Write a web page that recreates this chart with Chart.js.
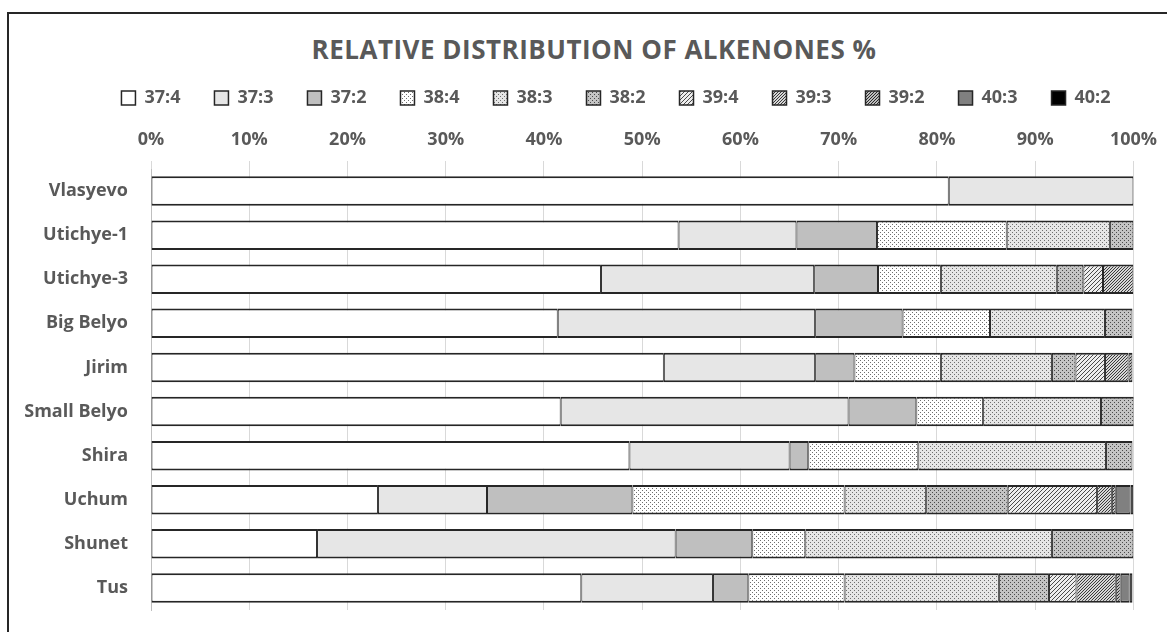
<!DOCTYPE html>
<html lang="en">
<head>
<meta charset="UTF-8">
<script src="https://cdn.jsdelivr.net/npm/chart.js"></script>
<title>Alkenones</title>
<style>
  html, body { margin: 0; padding: 0; background: #fff; }
  #wrap { position: relative; width: 1167px; height: 632px; overflow: hidden; }
  #frame { position: absolute; left: 7px; top: 12px; width: 1200px; height: 700px;
           border-left: 2px solid #262626; border-top: 2px solid #262626; }
  #title { position: absolute; left: 0; width: 1188px; top: 31px; text-align: center;
           font: bold 26px "Open Sans"; letter-spacing: 0.5px; color: #595959; }
  #chart { position: absolute; left: 0; top: 0; }
</style>
</head>
<body>
<div id="wrap">
  <div id="frame"></div>
  <div id="title">RELATIVE DISTRIBUTION OF ALKENONES %</div>
  <canvas id="chart" width="1167" height="632"></canvas>
</div>
<script>
// sites (top to bottom) and share of each alkenone, %
const sites = ['Vlasyevo', 'Utichye-1', 'Utichye-3', 'Big Belyo', 'Jirim', 'Small Belyo', 'Shira', 'Uchum', 'Shunet', 'Tus']
const seriesNames = ['37:4', '37:3', '37:2', '38:4', '38:3', '38:2', '39:4', '39:3', '39:2', '40:3', '40:2']
const c37_4 = [81.2, 53.7, 45.8, 41.4, 52.2, 41.7, 48.7, 23.1, 16.9, 43.8]
const c37_3 = [18.8, 12.0, 21.7, 26.2, 15.4, 29.3, 16.3, 11.1, 36.5, 13.4]
const c37_2 = [null, 8.2, 6.5, 8.9, 4.0, 6.9, 1.9, 14.8, 7.8, 3.6]
const c38_4 = [null, 13.2, 6.4, 8.9, 8.8, 6.8, 11.2, 21.6, 5.4, 9.8]
const c38_3 = [null, 10.5, 11.8, 11.7, 11.3, 12.0, 19.1, 8.3, 25.1, 15.7]
const c38_2 = [null, 2.4, 2.7, 2.8, 2.4, 3.4, 2.7, 8.3, 8.3, 5.1]
const c39_4 = [null, null, 2.0, null, 3.0, null, null, 9.1, null, 2.8]
const c39_3 = [null, null, 3.1, null, 2.4, null, null, 1.5, null, 4.0]
const c39_2 = [null, null, null, null, 0.4, null, null, 0.4, null, 0.5]
const c40_3 = [null, null, null, null, null, null, null, 1.5, null, 0.9]
const c40_2 = [null, null, null, null, null, null, null, 0.3, null, 0.3]
const xTicks = [0, 10, 20, 30, 40, 50, 60, 70, 80, 90, 100]

const ctx = document.getElementById('chart').getContext('2d')

// small repeating tiles for the Excel-like fill patterns
function tile(size, bg, draw) {
  const c = document.createElement('canvas')
  c.width = c.height = size
  const g = c.getContext('2d')
  g.fillStyle = bg
  g.fillRect(0, 0, size, size)
  draw(g)
  return ctx.createPattern(c, 'repeat')
}
function dots(bg, fg) {
  return tile(4, bg, g => { g.fillStyle = fg; g.fillRect(0, 0, 1, 1); g.fillRect(2, 2, 1, 1) })
}
function hatch(bg, fg, size) {
  return tile(size, bg, g => {
    g.fillStyle = fg
    for (let i = 0; i < size; i++) g.fillRect(size - 1 - i, i, 1, 1)
  })
}

const fills = [
  '#ffffff',
  '#e6e6e6',
  '#bfbfbf',
  dots('#ffffff', '#6e6e6e'),
  dots('#e6e6e6', '#6e6e6e'),
  dots('#c4c4c4', '#4a4a4a'),
  hatch('#eeeeee', '#4a4a4a', 4),
  hatch('#d6d6d6', '#3a3a3a', 3),
  hatch('#bdbdbd', '#2a2a2a', 3),
  '#808080',
  '#000000'
]
const values = [c37_4, c37_3, c37_2, c38_4, c38_3, c38_2, c39_4, c39_3, c39_2, c40_3, c40_2]

const datasets = seriesNames.map((name, i) => ({
  label: name,
  data: values[i],
  backgroundColor: fills[i],
  borderColor: '#262626',
  borderWidth: { top: 2, bottom: 2, left: 1, right: 1 },
  borderSkipped: false,
  categoryPercentage: 1,
  barPercentage: 0.67
}))

const gray = '#595959'
const font = { family: 'Open Sans', weight: 'bold', size: 18 }

// the legend in the original sits a bit right of the canvas centre
const shiftLegend = {
  id: 'shiftLegend',
  afterLayout(chart) {
    chart.legend.left += 42
    chart.legend.right += 42
  }
}

new Chart(ctx, {
  type: 'bar',
  data: { labels: sites, datasets: datasets },
  plugins: [shiftLegend],
  options: {
    indexAxis: 'y',
    responsive: false,
    animation: false,
    layout: { padding: { left: 8, right: 27, top: 55, bottom: 22 } },
    plugins: {
      title: { display: false },
      tooltip: { enabled: false },
      legend: {
        position: 'top',
        labels: { color: gray, font: font, boxWidth: 14, boxHeight: 14, padding: 34 }
      }
    },
    scales: {
      x: {
        position: 'top',
        stacked: true,
        min: 0,
        max: 100,
        afterBuildTicks: s => { s.ticks = xTicks.map(v => ({ value: v })) },
        afterFit: s => { s.height = 52 },
        ticks: { color: gray, font: font, padding: 10, callback: v => v + '%' },
        grid: { color: '#d9d9d9', lineWidth: 1, tickLength: 8 },
        border: { display: false }
      },
      y: {
        stacked: true,
        afterFit: s => { s.width = 151 - 8; s.paddingTop = 0; s.paddingBottom = 0 },
        ticks: { color: gray, font: font, padding: 23 },
        grid: { display: false, drawTicks: false },
        border: { display: true, color: '#bfbfbf', width: 1 }
      }
    }
  }
})
</script>
</body>
</html>
